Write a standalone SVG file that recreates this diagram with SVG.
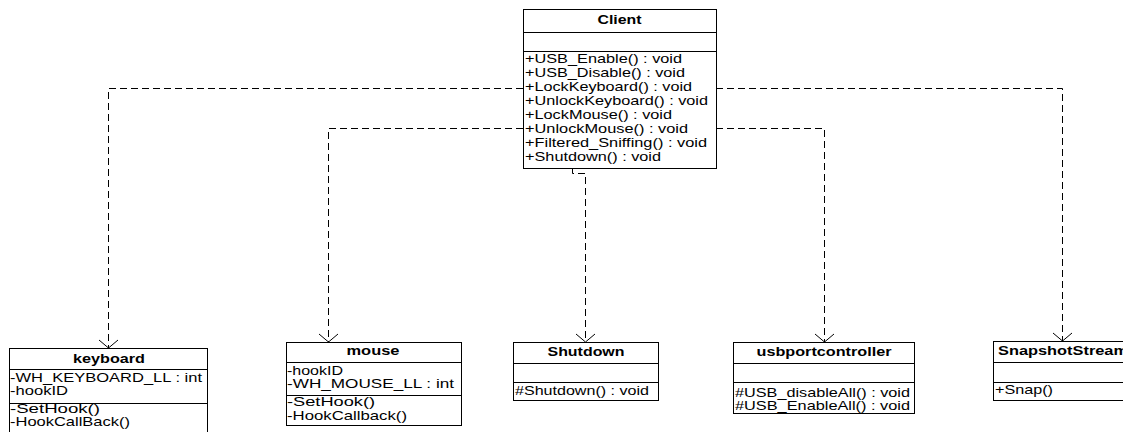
<svg xmlns="http://www.w3.org/2000/svg" width="1123" height="432" viewBox="0 0 1123 432">
  <style>
    .box { fill: #fff; stroke: #000; stroke-width: 1; }
    .sep { stroke: #000; stroke-width: 1; }
    .title { font-family: "Liberation Sans", Arial, sans-serif; font-size: 13.5px; font-weight: bold; fill: #000; text-anchor: middle; }
    .mem { font-family: "Liberation Sans", Arial, sans-serif; font-size: 13.5px; fill: #000; }
    .dep { fill: none; stroke: #000; stroke-width: 1; stroke-dasharray: 7 4; }
  </style>
  <defs>
    <!-- open arrowhead for dependencies, drawn pointing along +x -->
    <marker id="open" markerWidth="12" markerHeight="22" refX="10" refY="11" markerUnits="userSpaceOnUse" orient="auto" viewBox="0 0 12 22">
      <path d="M2,1.5 L10,11 L2,20.5" fill="none" stroke="#000" stroke-width="1"/>
    </marker>
  </defs>
  <rect width="1123" height="432" fill="#fff"/>

  <!-- dependency connectors -->
  <g id="connectors">
    <path class="dep" d="M523,88.5 H108.5 V348" marker-end="url(#open)"/>
    <path class="dep" d="M523,128.5 H328.5 V342" marker-end="url(#open)"/>
    <path class="dep" d="M572.5,168 V173.5 H585.5 V342" marker-end="url(#open)"/>
    <path class="dep" d="M716,128.5 H824.5 V342" marker-end="url(#open)"/>
    <path class="dep" d="M716,88.5 H1062.5 V341" marker-end="url(#open)"/>
  </g>

  <g id="client">
    <rect class="box" x="523.5" y="9.5" width="193" height="159"/>
    <line class="sep" x1="523.5" y1="32.5" x2="716.5" y2="32.5"/>
    <line class="sep" x1="523.5" y1="51.5" x2="716.5" y2="51.5"/>
    <text class="title" x="619.5" y="24" textLength="44" lengthAdjust="spacingAndGlyphs">Client</text>
    <text class="mem" x="525" y="63" textLength="157" lengthAdjust="spacingAndGlyphs">+USB_Enable() : void</text>
    <text class="mem" x="525" y="77" textLength="160" lengthAdjust="spacingAndGlyphs">+USB_Disable() : void</text>
    <text class="mem" x="525" y="91" textLength="167" lengthAdjust="spacingAndGlyphs">+LockKeyboard() : void</text>
    <text class="mem" x="525" y="105" textLength="183" lengthAdjust="spacingAndGlyphs">+UnlockKeyboard() : void</text>
    <text class="mem" x="525" y="119" textLength="147" lengthAdjust="spacingAndGlyphs">+LockMouse() : void</text>
    <text class="mem" x="525" y="133" textLength="163" lengthAdjust="spacingAndGlyphs">+UnlockMouse() : void</text>
    <text class="mem" x="525" y="147" textLength="182" lengthAdjust="spacingAndGlyphs">+Filtered_Sniffing() : void</text>
    <text class="mem" x="525" y="161" textLength="136" lengthAdjust="spacingAndGlyphs">+Shutdown() : void</text>
  </g>

  <g id="keyboard">
    <rect class="box" x="9.5" y="348.5" width="198" height="100"/>
    <line class="sep" x1="9.5" y1="369.5" x2="207.5" y2="369.5"/>
    <line class="sep" x1="9.5" y1="403.5" x2="207.5" y2="403.5"/>
    <text class="title" x="109" y="363" textLength="72" lengthAdjust="spacingAndGlyphs">keyboard</text>
    <text class="mem" x="10" y="382" textLength="192" lengthAdjust="spacingAndGlyphs">-WH_KEYBOARD_LL : int</text>
    <text class="mem" x="10" y="395" textLength="58" lengthAdjust="spacingAndGlyphs">-hookID</text>
    <text class="mem" x="10" y="413" textLength="90" lengthAdjust="spacingAndGlyphs">-SetHook()</text>
    <text class="mem" x="10" y="426" textLength="120" lengthAdjust="spacingAndGlyphs">-HookCallBack()</text>
  </g>

  <g id="mouse">
    <rect class="box" x="286.5" y="342.5" width="175" height="83"/>
    <line class="sep" x1="286.5" y1="362.5" x2="461.5" y2="362.5"/>
    <line class="sep" x1="286.5" y1="395.5" x2="461.5" y2="395.5"/>
    <text class="title" x="373" y="355" textLength="53" lengthAdjust="spacingAndGlyphs">mouse</text>
    <text class="mem" x="287" y="375" textLength="56" lengthAdjust="spacingAndGlyphs">-hookID</text>
    <text class="mem" x="287" y="388" textLength="167" lengthAdjust="spacingAndGlyphs">-WH_MOUSE_LL : int</text>
    <text class="mem" x="287" y="406" textLength="88" lengthAdjust="spacingAndGlyphs">-SetHook()</text>
    <text class="mem" x="287" y="420" textLength="120" lengthAdjust="spacingAndGlyphs">-HookCallback()</text>
  </g>

  <g id="shutdown">
    <rect class="box" x="513.5" y="342.5" width="145" height="58"/>
    <line class="sep" x1="513.5" y1="363.5" x2="658.5" y2="363.5"/>
    <line class="sep" x1="513.5" y1="382.5" x2="658.5" y2="382.5"/>
    <text class="title" x="586" y="356" textLength="77" lengthAdjust="spacingAndGlyphs">Shutdown</text>
    <text class="mem" x="515" y="395" textLength="134" lengthAdjust="spacingAndGlyphs">#Shutdown() : void</text>
  </g>

  <g id="usbportcontroller">
    <rect class="box" x="733.5" y="342.5" width="181" height="71"/>
    <line class="sep" x1="733.5" y1="363.5" x2="914.5" y2="363.5"/>
    <line class="sep" x1="733.5" y1="382.5" x2="914.5" y2="382.5"/>
    <text class="title" x="824" y="356" textLength="135" lengthAdjust="spacingAndGlyphs">usbportcontroller</text>
    <text class="mem" x="735" y="397" textLength="175" lengthAdjust="spacingAndGlyphs">#USB_disableAll() : void</text>
    <text class="mem" x="735" y="410" textLength="175" lengthAdjust="spacingAndGlyphs">#USB_EnableAll() : void</text>
  </g>

  <g id="snapshotstream">
    <rect class="box" x="993.5" y="341.5" width="140" height="59"/>
    <line class="sep" x1="993.5" y1="362.5" x2="1133.5" y2="362.5"/>
    <line class="sep" x1="993.5" y1="382.5" x2="1133.5" y2="382.5"/>
    <text class="title" x="998" y="355" style="text-anchor:start" textLength="130" lengthAdjust="spacingAndGlyphs">SnapshotStream</text>
    <text class="mem" x="995" y="394" textLength="58" lengthAdjust="spacingAndGlyphs">+Snap()</text>
  </g>
</svg>
